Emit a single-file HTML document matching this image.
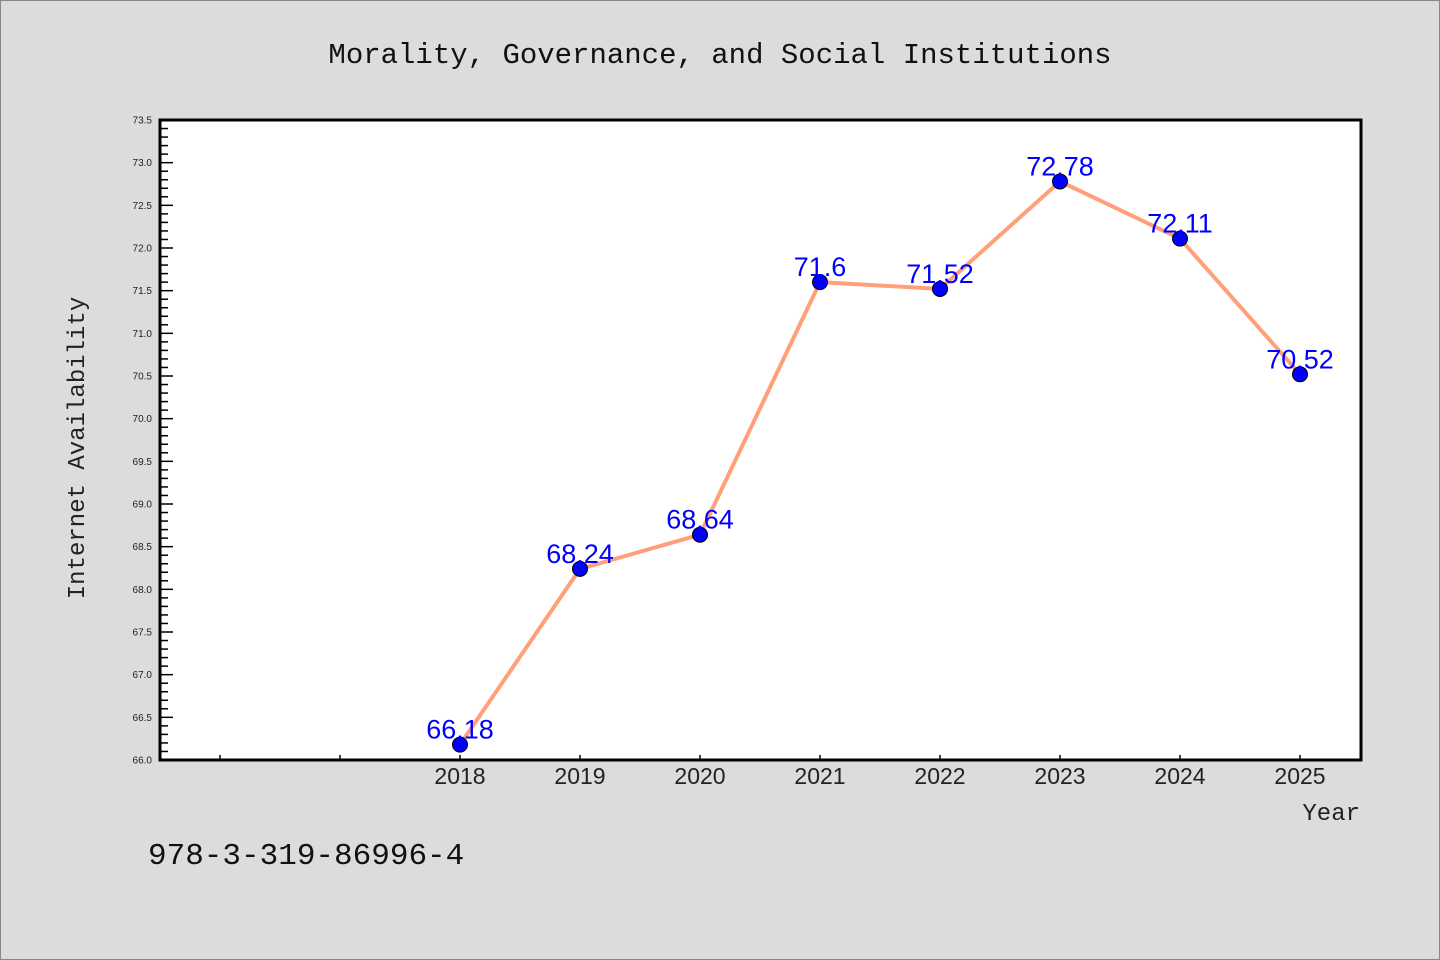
<!DOCTYPE html>
<html><head><meta charset="utf-8"><style>
html,body{margin:0;padding:0;background:#dcdcdc;}
svg{display:block;}
</style></head><body>
<svg id="chart" width="1440" height="960" xmlns="http://www.w3.org/2000/svg">
<rect x="0.5" y="0.5" width="1439" height="959" fill="#dcdcdc" stroke="#888"/>
<text x="720" y="63" text-anchor="middle" font-family="Liberation Mono, monospace" font-size="29" fill="#111">Morality, Governance, and Social Institutions</text>
<rect x="160" y="120" width="1201" height="640" fill="#fff"/>
<g id="axes"></g>
<g id="series"></g>
<rect x="160" y="120" width="1201" height="640" fill="none" stroke="#000" stroke-width="3"/>
<text transform="translate(84,448) rotate(-90)" text-anchor="middle" font-family="Liberation Mono, monospace" font-size="24" fill="#222">Internet Availability</text>
<text x="1360" y="820" text-anchor="end" font-family="Liberation Mono, monospace" font-size="24" fill="#222">Year</text>
<text x="148" y="864" font-family="Liberation Mono, monospace" font-size="31" fill="#111">978-3-319-86996-4</text>
</svg>
<script>
const years=[2018,2019,2020,2021,2022,2023,2024,2025];
const values=[66.18,68.24,68.64,71.6,71.52,72.78,72.11,70.52];
const labels=["66.18","68.24","68.64","71.6","71.52","72.78","72.11","70.52"];
const yTicks=[66.0,66.5,67.0,67.5,68.0,68.5,69.0,69.5,70.0,70.5,71.0,71.5,72.0,72.5,73.0,73.5];
const xTickYears=[2016,2017,2018,2019,2020,2021,2022,2023,2024,2025];
const NS="http://www.w3.org/2000/svg";
const X=v=>160+(v-2015.5)*120;
const Y=v=>760-(v-66)*(640/7.5);
function mk(t,a,p){const e=document.createElementNS(NS,t);for(const k in a)e.setAttribute(k,a[k]);p.appendChild(e);return e;}
const ax=document.getElementById('axes');
for(let i=0;i<=75;i++){const v=66+i*0.1;const y=Y(v);const major=i%5===0;
const t=mk('line',{x1:160,x2:major?173:168,y1:y,y2:y,stroke:'#000','stroke-width':1.5},ax);

}
yTicks.forEach(v=>{const t=mk('text',{x:152,y:Y(v)+3.5,'text-anchor':'end','font-family':'Liberation Sans, sans-serif','font-size':10,fill:'#222'},ax);t.textContent=v.toFixed(1);

});
xTickYears.forEach(v=>{const x=X(v);const t=mk('line',{x1:x,x2:x,y1:760,y2:755,stroke:'#000','stroke-width':1.5},ax);


if(v>=2018){const l=mk('text',{x:x,y:784,'text-anchor':'middle','font-family':'Liberation Sans, sans-serif','font-size':23,fill:'#222'},ax);l.textContent=v;

}});
const s=document.getElementById('series');
const pl=mk('polyline',{points:years.map((y,i)=>X(y)+','+Y(values[i])).join(' '),fill:'none',stroke:'#ffa07a','stroke-width':4},s);


years.forEach((y,i)=>{const c=mk('circle',{cx:X(y),cy:Y(values[i]),r:7.5,fill:'#0000ff',stroke:'#000','stroke-width':1},s);


const t=mk('text',{x:X(y),y:Y(values[i])-6,'text-anchor':'middle','font-family':'Liberation Sans, sans-serif','font-size':27,fill:'#0000ff'},s);t.textContent=labels[i];

});
</script>
</body></html>
